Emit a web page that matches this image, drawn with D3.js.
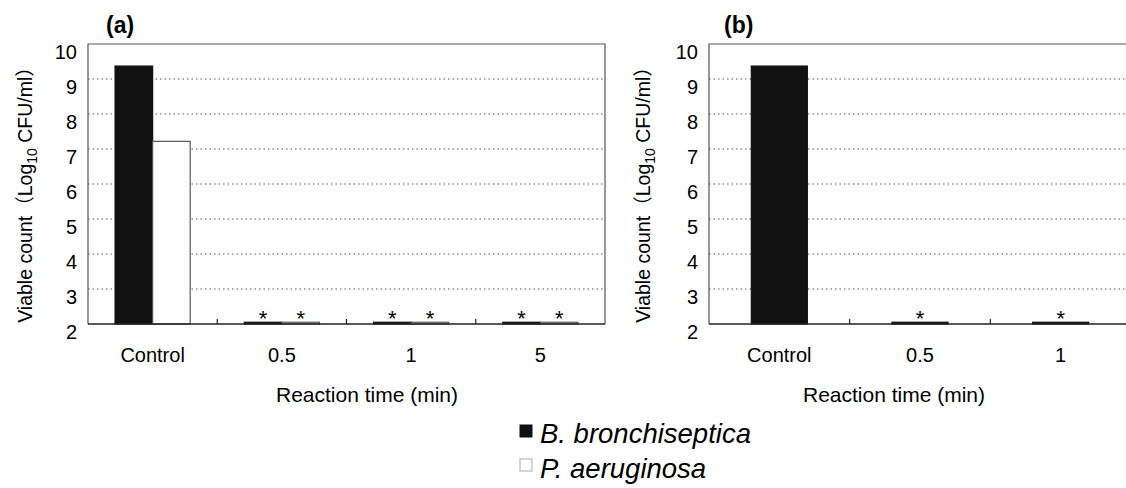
<!DOCTYPE html>
<html>
<head>
<meta charset="utf-8">
<script src="https://cdnjs.cloudflare.com/ajax/libs/d3/7.8.5/d3.min.js"></script>
<style>
body { margin: 0; background: #fff; }
svg { font-family: "Liberation Sans", Arial, sans-serif; }
</style>
</head>
<body>
<div id="chart"></div>
<script>
// data
var timesA = ["Control", "0.5", "1", "5"];
var bronchiA = [9.37, 2.05, 2.05, 2.05];
var aeruginosaA = [7.22, 2.05, 2.05, 2.05];
var sigA = [false, true, true, true];

var timesB = ["Control", "0.5", "1"];
var bronchiB = [9.37, 2.05, 2.05];
var sigB = [false, true, true];

var yTicks = [2, 3, 4, 5, 6, 7, 8, 9, 10];

var svg = d3.select("#chart").append("svg")
	.attr("width", 1126)
	.attr("height", 488);

// one panel
function drawPanel(opt) {
	var g = svg.append("g");
	var x = d3.scaleBand().domain(opt.cats).range([opt.left, opt.right]);
	var y = d3.scaleLinear().domain([2, 10]).range([opt.bottom, opt.top]);

	// dotted gridlines
	g.selectAll("line.grid")
		.data(yTicks.filter(function(d) { return d > 2 && d < 10; }))
		.enter().append("line")
		.attr("x1", opt.left).attr("x2", opt.right)
		.attr("y1", function(d) { return y(d); })
		.attr("y2", function(d) { return y(d); })
		.attr("stroke", "#555")
		.attr("stroke-width", 1.2)
		.attr("stroke-dasharray", "1.5,3");

	// frame (left, top, right)
	g.append("path")
		.attr("d", "M" + opt.left + "," + opt.bottom + "V" + opt.top + "H" + opt.right + "V" + opt.bottom)
		.attr("fill", "none")
		.attr("stroke", "#555")
		.attr("stroke-width", 1.2);

	// bars
	var series = opt.series;
	var inner = d3.scaleBand().domain(d3.range(series.length))
		.range([0, x.bandwidth()]).paddingInner(0)
		.paddingOuter(opt.outerPad);
	series.forEach(function(s, si) {
		var pts = s.values.map(function(v, i) { return { v: v, cat: opt.cats[i], sig: opt.sig[i] }; });
		g.selectAll("rect.s" + si)
			.data(pts)
			.enter().append("rect")
			.attr("x", function(d) { return x(d.cat) + inner(si); })
			.attr("width", inner.bandwidth())
			.attr("y", function(d) { return y(d.v); })
			.attr("height", function(d) { return y(2) - y(d.v); })
			.attr("fill", s.fill)
			.attr("stroke", s.stroke)
			.attr("stroke-width", 1.2);

		g.selectAll("text.star" + si)
			.data(pts.filter(function(d) { return d.sig; }))
			.enter().append("text")
			.attr("x", function(d) { return x(d.cat) + inner(si) + inner.bandwidth() / 2; })
			.attr("y", function(d) { return y(d.v) + 4; })
			.attr("text-anchor", "middle")
			.attr("font-size", 22)
			.text("*");
	});

	// x axis line with small inward ticks
	g.append("line")
		.attr("x1", opt.left).attr("x2", opt.right)
		.attr("y1", opt.bottom).attr("y2", opt.bottom)
		.attr("stroke", "#222").attr("stroke-width", 1.5);
	g.selectAll("line.tick")
		.data(opt.cats.slice(1))
		.enter().append("line")
		.attr("x1", function(d) { return x(d); })
		.attr("x2", function(d) { return x(d); })
		.attr("y1", opt.bottom).attr("y2", opt.bottom - 5)
		.attr("stroke", "#222").attr("stroke-width", 1.2);

	// category labels
	g.selectAll("text.cat")
		.data(opt.cats)
		.enter().append("text")
		.attr("x", function(d) { return x(d) + x.bandwidth() / 2; })
		.attr("y", opt.bottom + 38)
		.attr("text-anchor", "middle")
		.attr("font-size", 20)
		.text(function(d) { return d; });

	// y tick labels
	g.selectAll("text.ytick")
		.data(yTicks)
		.enter().append("text")
		.attr("x", opt.left - 11)
		.attr("y", function(d) { return y(d) + 15; })
		.attr("text-anchor", "end")
		.attr("font-size", 20)
		.text(function(d) { return d; });

	// y title
	var yt = g.append("text")
		.attr("transform", "translate(" + opt.ytitleX + "," + ((opt.top + opt.bottom) / 2 + 6) + ") rotate(-90)")
		.attr("text-anchor", "middle")
		.attr("font-size", 19.5);
	yt.append("tspan").text("Viable count");
	yt.append("tspan").attr("font-family", "Noto Sans CJK JP").text("\uFF08");
	yt.append("tspan").text("Log");
	yt.append("tspan").attr("font-size", 14).attr("dy", 5).text("10");
	yt.append("tspan").attr("dy", -5).text(" CFU/ml");
	yt.append("tspan").attr("font-family", "Noto Sans CJK JP").text("\uFF09");

	// x title
	g.append("text")
		.attr("x", opt.xtitleX)
		.attr("y", opt.bottom + 78)
		.attr("text-anchor", "middle")
		.attr("font-size", 21)
		.text("Reaction time (min)");

	// panel letter
	g.append("text")
		.attr("x", opt.letterX)
		.attr("y", 33)
		.attr("font-size", 23)
		.attr("font-weight", "bold")
		.text(opt.letter);
}

drawPanel({
	cats: timesA, left: 88, right: 605, top: 44, bottom: 324,
	series: [
		{ values: bronchiA, fill: "#111", stroke: "#111" },
		{ values: aeruginosaA, fill: "#fff", stroke: "#555" }
	],
	outerPad: 0.72, sig: sigA,
	ytitleX: 32, xtitleX: 367, letterX: 106, letter: "(a)"
});

drawPanel({
	cats: timesB, left: 709, right: 1131, top: 44, bottom: 324,
	series: [
		{ values: bronchiB, fill: "#111", stroke: "#111" }
	],
	outerPad: 0.755, sig: sigB,
	ytitleX: 650, xtitleX: 894, letterX: 724, letter: "(b)"
});

// legend
var legendNames = ["B. bronchiseptica", "P. aeruginosa"];
var legendFill = ["#111", "#fff"];
var legendStroke = ["#111", "#aaa"];
var lg = svg.append("g");
lg.selectAll("rect")
	.data(legendNames)
	.enter().append("rect")
	.attr("x", 520)
	.attr("y", function(d, i) { return 425 + i * 34; })
	.attr("width", 12).attr("height", 12)
	.attr("fill", function(d, i) { return legendFill[i]; })
	.attr("stroke", function(d, i) { return legendStroke[i]; });
lg.selectAll("text")
	.data(legendNames)
	.enter().append("text")
	.attr("x", 540)
	.attr("y", function(d, i) { return 443 + i * 35; })
	.attr("font-size", 27.5)
	.attr("font-style", "italic")
	.text(function(d) { return d; });
</script>
</body>
</html>
